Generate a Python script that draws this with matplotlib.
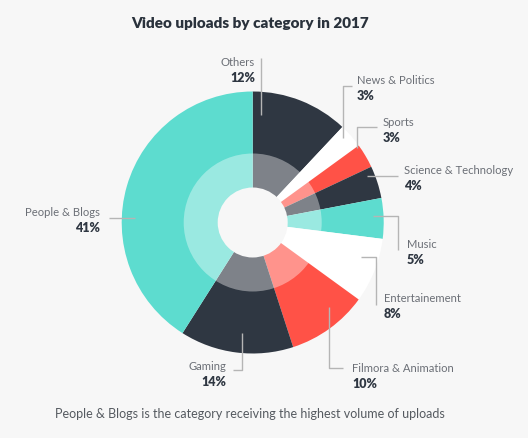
import matplotlib
matplotlib.use("Agg")
import matplotlib.pyplot as plt
from matplotlib.patches import Circle

# ---- data ----
categories = ["Others", "News & Politics", "Sports", "Science & Technology", "Music",
              "Entertainement", "Filmora & Animation", "Gaming", "People & Blogs"]
shares = [12, 3, 3, 4, 5, 8, 10, 14, 41]
pct_labels = ["12%", "3%", "3%", "4%", "5%", "8%", "10%", "14%", "41%"]

# ---- styles ----
DARK = "#2f3742"
TEAL = "#5ddccf"
RED = "#ff5247"
WHITE = "#ffffff"
BG = "#f7f7f7"
colors = [DARK, WHITE, RED, DARK, TEAL, WHITE, RED, DARK, TEAL]

W, H = 528, 438
fig = plt.figure(figsize=(W / 100, H / 100), dpi=100, facecolor=BG)
ax = fig.add_axes([0, 0, 1, 1])
ax.set_facecolor(BG)

def Y(y):
    return H - y

cx, cy = 252.7, Y(222.5)
R_OUT, R_MID, R_HOLE = 131, 69, 35

ax.pie(shares, radius=R_OUT, center=(cx, cy), startangle=90, counterclock=False,
       colors=colors, wedgeprops=dict(linewidth=0), frame=False)
ax.add_patch(Circle((cx, cy), R_MID, facecolor="white", alpha=0.38, lw=0, zorder=5))
ax.add_patch(Circle((cx, cy), R_HOLE, facecolor=BG, lw=0, zorder=6))

ax.set_xlim(0, W)
ax.set_ylim(0, H)
ax.set_aspect("equal")
ax.axis("off")

FONT = "Lato"
NAME_C = "#6b6f76"
LINE_C = "#b5b5b5"

# layout: (leader path in px, name x, name y, pct y, ha)
layout = [
    ([(260.7, 115), (260.7, 58)], 255, 62, 77.5, "right"),
    ([(343.3, 138), (343.3, 86), (351.7, 86)], 356.7, 81, 96.5, "left"),
    ([(357.3, 148), (357.3, 126.7), (377, 126.7)], 382.7, 123, 138.5, "left"),
    ([(366.7, 175.7), (398.3, 175.7)], 404.3, 170, 185.5, "left"),
    ([(372.7, 215.7), (398.3, 215.7), (398.3, 250)], 406.7, 244.5, 260, "left"),
    ([(360.7, 256.7), (376, 256.7), (376, 305)], 384, 299, 314.5, "left"),
    ([(329, 306.7), (329, 368.3), (343.3, 368.3)], 352.3, 369, 384, "left"),
    ([(241.7, 333), (241.7, 370), (232.7, 370)], 226.7, 366.7, 382, "right"),
    ([(135, 217.7), (109.3, 217.7)], 100, 212, 227.5, "right"),
]

for name, pct, (path, tx, ny, py, ha) in zip(categories, pct_labels, layout):
    xs = [p[0] for p in path]
    ys = [Y(p[1]) for p in path]
    ax.plot(xs, ys, color=LINE_C, lw=1.0, zorder=7, solid_capstyle="butt")
    ax.text(tx, Y(ny), name, ha=ha, va="center", fontsize=8.1, color=NAME_C,
            family=FONT, zorder=8)
    ax.text(tx, Y(py), pct, ha=ha, va="center", fontsize=9, color=DARK,
            family=FONT, fontweight="heavy", zorder=8)

ax.text(250, Y(24), "Video uploads by category in 2017", ha="center", va="center",
        fontsize=11, fontweight="heavy", color="#2a323c", family=FONT)
ax.text(250, Y(414), "People & Blogs is the category receiving the highest volume of uploads",
        ha="center", va="center", fontsize=9, color="#555a60", family=FONT)

fig.savefig("out.png", dpi=100, facecolor=BG)
